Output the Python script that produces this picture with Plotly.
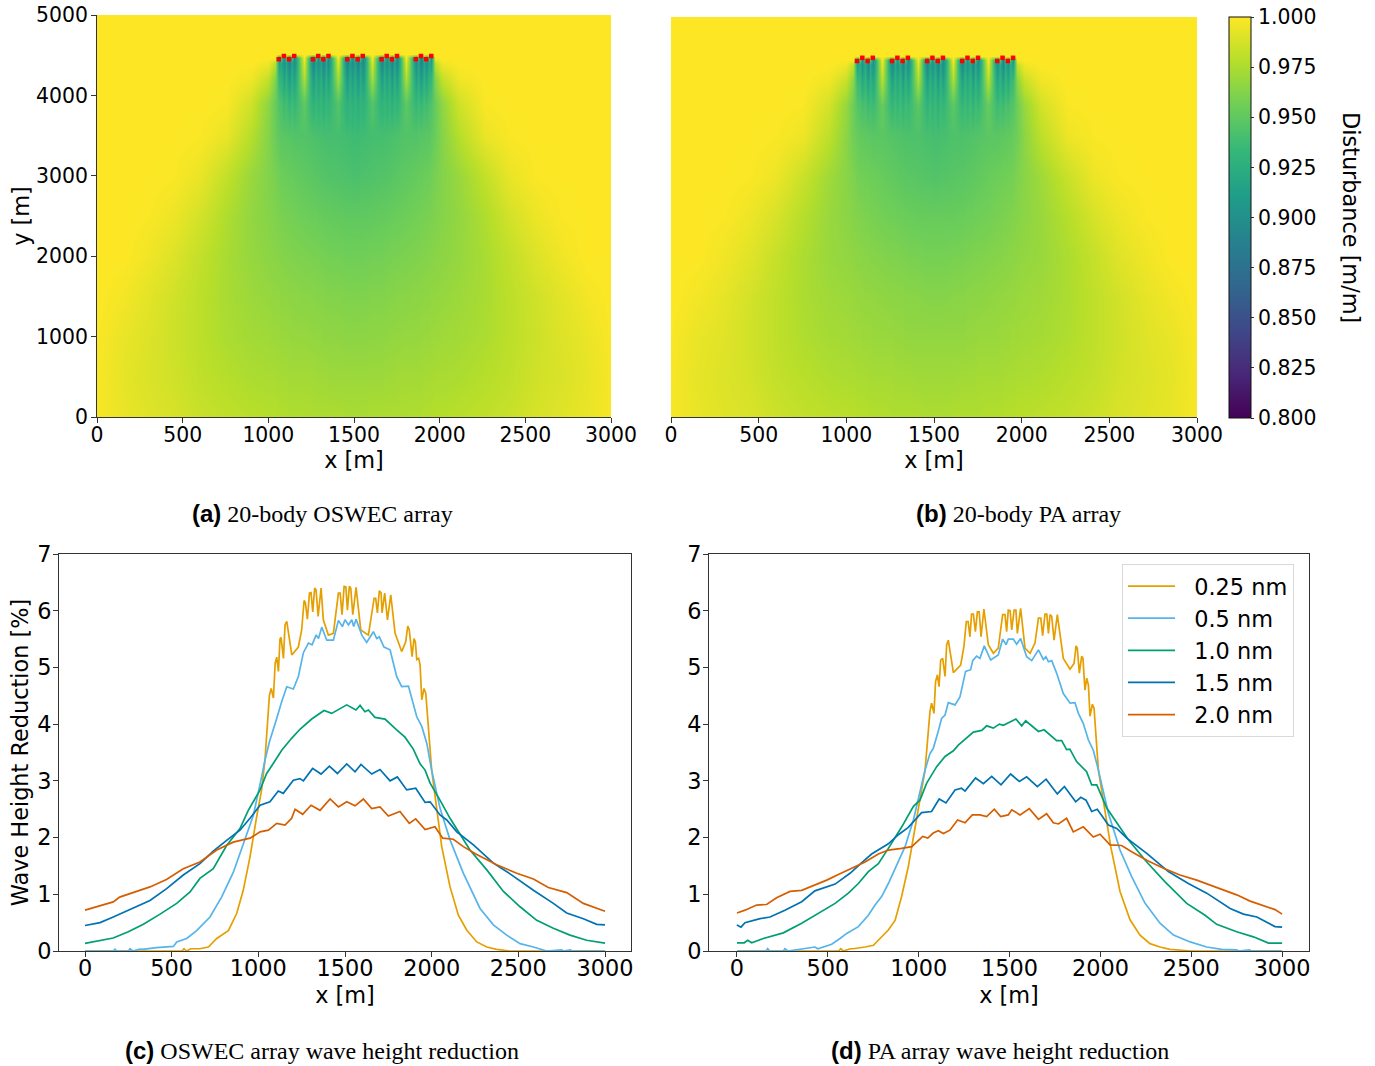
import plotly.graph_objects as go

W, H = 1375, 1066
FONT = "DejaVu Sans"

# ---------- heat maps: disturbance deficit in thousandths (0 = 1.000 m/m) ----------
grid_x = [0,150,300,450,600,750,900,1000,1040,
          1061,1076,1091,1106,1121,1136,1151,1206,
          1261,1276,1291,1306,1321,1336,1351,1406,
          1461,1476,1491,1506,1521,1536,1551,1606,
          1661,1676,1691,1706,1721,1736,1751,1806,
          1861,1876,1891,1906,1921,1936,1951,
          1972,2012,2112,2262,2412,2562,2712,2862,3000]
grid_y = [0,500,1000,1500,2000,2500,3000,3500,3900,4200,4400,4460,4510,5000]

deficit_a = [
 [2,6,9,12,16,19,21,22,22, 23,23,23,23,24,24,24,24, 25,25,25,25,25,25,25,25, 26,26,26,26,26,26,26,25, 25,25,25,25,25,25,25,24, 24,24,24,23,23,23,23, 22,22,21,19,16,12,9,6,2],
 [2,7,11,14,19,22,25,26,26, 27,27,27,27,28,28,28,28, 28,29,29,29,29,29,30,30, 30,30,30,30,30,30,30,30, 30,29,29,29,29,29,28,28, 28,28,28,27,27,27,27, 26,26,25,22,19,14,11,7,2],
 [1,6,10,15,20,25,28,29,30, 30,31,31,31,31,32,32,32, 33,33,33,33,34,34,34,34, 35,35,35,35,35,35,35,34, 34,34,34,33,33,33,33,32, 32,32,31,31,31,31,30, 30,29,28,25,20,15,10,6,1],
 [0,3,8,14,20,26,30,32,33, 33,34,34,34,35,35,35,36, 36,37,37,37,37,38,38,38, 39,39,39,39,39,39,39,38, 38,38,37,37,37,37,36,36, 35,35,35,34,34,34,33, 33,32,30,26,20,14,8,3,0],
 [0,0,4,10,18,26,32,35,36, 37,37,38,38,38,39,39,40, 41,41,41,42,42,42,43,43, 44,44,44,44,44,44,44,43, 43,42,42,42,41,41,41,40, 39,39,38,38,38,37,37, 36,35,32,26,18,10,4,0,0],
 [0,0,1,5,13,24,33,37,39, 40,41,41,42,42,43,43,45, 46,46,47,47,48,48,48,49, 50,50,50,50,50,50,50,49, 48,48,48,47,47,46,46,45, 43,43,42,42,41,41,40, 39,37,33,24,13,5,1,0,0],
 [0,0,0,1,6,18,31,38,41, 44,45,46,46,47,47,48,50, 52,53,53,54,54,55,55,56, 57,57,58,58,58,57,57,56, 55,55,54,54,53,53,52,50, 48,47,47,46,46,45,44, 41,38,31,18,6,1,0,0,0],
 [0,0,0,0,1,6,22,37,46, 50,52,52,53,53,54,55,55, 57,58,58,59,59,60,60,60, 62,62,63,63,63,62,62,60, 60,60,59,59,58,58,57,55, 55,54,53,53,52,52,50, 46,37,22,6,1,0,0,0,0],
 [0,0,0,0,0,1,14,34,47, 56,58,64,60,68,62,68,50, 72,66,72,66,74,66,70,54, 74,68,74,68,76,68,72,54, 72,66,72,66,74,66,70,50, 68,62,68,60,64,58,56, 47,34,14,1,0,0,0,0,0],
 [0,0,0,0,0,0,4,18,38, 68,70,84,72,90,74,86,24, 90,74,86,74,92,74,88,27, 92,76,88,76,94,76,90,27, 90,74,86,74,92,74,88,24, 86,74,90,72,84,70,68, 38,18,4,0,0,0,0,0,0],
 [0,0,0,0,0,0,0,4,20, 88,80,100,82,110,82,102,8, 110,84,100,84,112,84,104,10, 112,86,102,86,114,86,106,10, 110,84,100,84,112,84,104,8, 102,82,110,82,100,80,88, 20,4,0,0,0,0,0,0,0],
 [0,0,0,0,0,0,0,0,2, 100,55,100,55,118,55,104,1, 114,58,102,58,120,58,106,1, 116,60,102,60,122,60,108,1, 114,58,102,58,120,58,106,1, 104,55,118,55,100,55,100, 2,0,0,0,0,0,0,0,0],
 [0,0,0,0,0,0,0,0,0, 0,0,0,0,0,0,0,0, 0,0,0,0,0,0,0,0, 0,0,0,0,0,0,0,0, 0,0,0,0,0,0,0,0, 0,0,0,0,0,0,0, 0,0,0,0,0,0,0,0,0],
 [0,0,0,0,0,0,0,0,0, 0,0,0,0,0,0,0,0, 0,0,0,0,0,0,0,0, 0,0,0,0,0,0,0,0, 0,0,0,0,0,0,0,0, 0,0,0,0,0,0,0, 0,0,0,0,0,0,0,0,0],
]

deficit_b = [
 [2,6,9,11,15,18,20,21,21, 22,22,22,22,23,23,23,23, 24,24,24,24,24,24,24,24, 25,25,25,25,25,25,25,24, 24,24,24,24,24,24,24,23, 23,23,23,22,22,22,22, 21,21,20,18,15,11,9,6,2],
 [2,7,10,13,18,21,24,25,25, 26,26,26,26,27,27,27,27, 27,28,28,28,28,28,28,29, 29,29,29,29,29,29,29,29, 28,28,28,28,28,28,27,27, 27,27,27,26,26,26,26, 25,25,24,21,18,13,10,7,2],
 [1,6,9,14,19,24,27,28,29, 29,29,30,30,30,30,31,31, 31,32,32,32,32,33,33,33, 33,33,33,33,33,33,33,33, 33,33,32,32,32,32,31,31, 31,30,30,30,30,29,29, 29,28,27,24,19,14,9,6,1],
 [0,3,7,13,19,25,29,30,31, 32,32,32,33,33,33,33,34, 35,35,35,35,35,36,36,36, 37,37,37,37,37,37,37,36, 36,36,35,35,35,35,35,34, 33,33,33,33,32,32,32, 31,30,29,25,19,13,7,3,0],
 [0,0,4,9,17,25,31,33,34, 35,35,36,36,36,37,37,38, 39,39,39,40,40,40,41,41, 42,42,42,42,42,42,42,41, 41,40,40,40,39,39,39,38, 37,37,36,36,36,35,35, 34,33,31,25,17,9,4,0,0],
 [0,0,1,5,12,22,31,35,37, 38,39,39,40,40,41,41,43, 44,44,45,45,45,46,46,47, 47,47,47,47,47,47,47,47, 46,46,45,45,45,44,44,43, 41,41,40,40,39,39,38, 37,35,31,22,12,5,1,0,0],
 [0,0,0,1,5,16,29,36,39, 42,43,43,44,44,45,45,47, 49,50,50,51,51,52,52,53, 54,54,55,55,55,54,54,53, 52,52,51,51,50,50,49,47, 45,45,44,44,43,43,42, 39,36,29,16,5,1,0,0,0],
 [0,0,0,0,1,5,20,35,44, 47,49,49,50,50,51,52,52, 54,55,55,56,56,57,57,57, 59,59,60,60,60,59,59,57, 57,57,56,56,55,55,54,52, 52,51,50,50,49,49,47, 44,35,20,5,1,0,0,0,0],
 [0,0,0,0,0,1,13,32,45, 54,56,60,58,64,60,64,47, 68,62,68,62,70,62,66,51, 70,64,70,64,72,64,68,51, 68,62,68,62,70,62,66,47, 64,60,64,58,60,56,54, 45,32,13,1,0,0,0,0,0],
 [0,0,0,0,0,0,4,17,36, 64,66,80,68,86,70,82,22, 86,70,82,70,88,70,84,25, 88,72,84,72,90,72,86,25, 86,70,82,70,88,70,84,22, 82,70,86,68,80,66,64, 36,17,4,0,0,0,0,0,0],
 [0,0,0,0,0,0,0,4,19, 84,76,96,78,106,78,98,7, 106,80,96,80,108,80,100,9, 108,82,98,82,110,82,102,9, 106,80,96,80,108,80,100,7, 98,78,106,78,96,76,84, 19,4,0,0,0,0,0,0,0],
 [0,0,0,0,0,0,0,0,2, 96,52,96,52,114,52,100,1, 110,55,98,55,116,55,102,1, 112,57,98,57,118,57,104,1, 110,55,98,55,116,55,102,1, 100,52,114,52,96,52,96, 2,0,0,0,0,0,0,0,0],
 [0,0,0,0,0,0,0,0,0, 0,0,0,0,0,0,0,0, 0,0,0,0,0,0,0,0, 0,0,0,0,0,0,0,0, 0,0,0,0,0,0,0,0, 0,0,0,0,0,0,0, 0,0,0,0,0,0,0,0,0],
 [0,0,0,0,0,0,0,0,0, 0,0,0,0,0,0,0,0, 0,0,0,0,0,0,0,0, 0,0,0,0,0,0,0,0, 0,0,0,0,0,0,0,0, 0,0,0,0,0,0,0, 0,0,0,0,0,0,0,0,0],
]

# device positions
body_x = [1061,1091,1121,1151, 1261,1291,1321,1351, 1461,1491,1521,1551, 1661,1691,1721,1751, 1861,1891,1921,1951]
body_y = [4450,4490,4450,4490, 4450,4490,4450,4490, 4450,4490,4450,4490, 4450,4490,4450,4490, 4450,4490,4450,4490]

# ---------- line series ----------
names = ["\u00a0\u00a00.25 nm", "\u00a0\u00a00.5 nm", "\u00a0\u00a01.0 nm", "\u00a0\u00a01.5 nm", "\u00a0\u00a02.0 nm"]
colors = ["#E69F00", "#56B4E9", "#009E73", "#0072B2", "#D55E00"]

# panel c
c_x_025 = [0,300,560,571,585,610,625,663,712,760,827,875,913,952,990,1019,1038,1064,1074,1087,1097,1106,1116,1125,1131,1145,1154,1164,1193,1231,1250,1264,1271,1283,1295,1304,1314,1325,1333,1345,1362,1375,1404,1433,1462,1472,1483,1495,1505,1514,1525,1533,1545,1564,1591,1635,1668,1677,1687,1698,1708,1714,1729,1745,1764,1789,1827,1850,1862,1871,1887,1898,1906,1914,1925,1933,1943,1956,1966,2000,2058,2106,2154,2202,2260,2318,2375,2450,3000]
c_y_025 = [0,0,0,.04,0,.04,.04,.04,.07,.22,.36,.66,1.07,1.66,2.36,2.84,3.36,4.51,4.63,4.46,5.07,5.18,4.93,5.50,5.53,5.16,5.75,5.81,5.22,5.36,5.66,6.18,6.15,5.85,6.31,6.32,5.98,6.40,6.37,5.90,6.40,5.84,5.57,5.60,6.31,6.31,5.93,6.43,6.42,6.01,6.43,6.40,5.93,6.41,5.66,5.57,6.22,6.22,5.96,6.35,6.32,5.96,6.31,5.84,6.28,5.60,5.28,5.45,5.73,5.66,5.19,5.51,5.45,5.14,5.16,5.05,4.43,4.63,4.54,3.19,1.84,1.13,.63,.37,.16,.07,.03,0,0]
c_x_05 = [0,163,173,183,250,260,275,317,330,413,510,529,587,644,721,788,856,913,971,1019,1038,1064,1087,1106,1135,1164,1202,1231,1260,1289,1310,1333,1347,1366,1395,1433,1462,1485,1500,1520,1539,1550,1564,1597,1625,1664,1683,1698,1725,1760,1798,1827,1866,1891,1914,1943,1972,2000,2048,2106,2183,2279,2356,2433,2510,2587,2664,2750,2760,2800,2810,3000]
c_y_05 = [0,0,.03,0,0,.04,0,.035,.03,.06,.08,.16,.22,.36,.6,.95,1.39,1.89,2.39,3.07,3.36,3.69,3.9,4.10,4.40,4.66,4.62,4.84,5.26,5.43,5.40,5.57,5.51,5.71,5.48,5.48,5.83,5.72,5.84,5.75,5.84,5.72,5.85,5.57,5.44,5.63,5.51,5.54,5.36,5.31,4.84,4.66,4.67,4.37,4.13,3.96,3.66,3.19,2.52,1.96,1.37,.75,.46,.28,.13,.07,0,.02,0,.02,0,0]
c_x_10 = [0,67,163,250,337,433,529,606,663,740,817,894,942,1010,1048,1087,1135,1192,1240,1308,1379,1423,1510,1563,1587,1615,1635,1673,1731,1798,1846,1894,1933,1962,1991,2048,2106,2221,2318,2414,2510,2606,2702,2798,2894,3000]
c_y_10 = [.135,.17,.23,.34,.47,.65,.84,1.04,1.28,1.45,1.86,2.16,2.48,2.84,3.13,3.31,3.54,3.75,3.91,4.09,4.24,4.19,4.34,4.25,4.33,4.22,4.25,4.12,4.09,3.90,3.77,3.56,3.3,3.19,2.96,2.66,2.34,1.78,1.43,1.05,.78,.54,.40,.28,.19,.14]
c_x_15 = [0,87,163,279,375,471,567,663,740,817,894,952,1010,1067,1115,1144,1202,1240,1260,1313,1362,1410,1456,1510,1558,1592,1654,1702,1760,1802,1856,1908,1962,1991,2048,2087,2145,2241,2356,2452,2587,2702,2779,2875,2952,3000]
c_y_15 = [.45,.5,.6,.76,.89,1.10,1.34,1.54,1.76,1.95,2.13,2.34,2.57,2.63,2.82,2.78,3.01,3.04,3.0,3.22,3.12,3.26,3.13,3.30,3.16,3.29,3.12,3.20,3.0,3.07,2.84,2.87,2.62,2.63,2.40,2.31,2.10,1.87,1.55,1.36,1.07,.84,.67,.57,.47,.46]
c_x_20 = [0,87,163,200,280,375,470,567,663,760,855,952,1010,1058,1106,1154,1192,1212,1256,1304,1356,1414,1462,1510,1558,1606,1654,1702,1750,1817,1871,1908,1962,2019,2064,2125,2183,2260,2375,2491,2587,2673,2779,2875,3000]
c_y_20 = [.72,.8,.865,.95,1.03,1.13,1.26,1.45,1.57,1.78,1.92,1.99,2.10,2.13,2.25,2.22,2.34,2.50,2.41,2.57,2.48,2.68,2.54,2.63,2.56,2.68,2.51,2.54,2.38,2.46,2.25,2.33,2.14,2.19,1.99,1.97,1.84,1.70,1.52,1.37,1.27,1.12,1.03,.84,.70]

# panel d
d_x_025 = [0,300,560,571,585,625,640,705,751,787,833,870,906,943,980,1017,1035,1062,1071,1084,1093,1103,1112,1121,1132,1145,1154,1163,1191,1231,1249,1262,1272,1282,1291,1301,1312,1323,1333,1343,1359,1383,1411,1438,1462,1475,1484,1493,1503,1512,1525,1535,1543,1561,1585,1613,1640,1659,1672,1682,1695,1705,1714,1723,1732,1745,1763,1796,1833,1855,1866,1873,1884,1897,1904,1915,1925,1934,1943,1956,1965,1989,2057,2108,2163,2218,2273,2328,2383,2500,3000]
d_y_025 = [0,0,0,.04,0,.04,.04,.07,.10,.22,.37,.54,.96,1.49,2.19,2.9,3.19,4.22,4.37,4.19,4.75,4.87,4.66,5.13,5.16,4.84,5.40,5.48,4.91,5.04,5.37,5.81,5.81,5.54,5.94,5.94,5.63,5.98,5.98,5.54,6.03,5.40,5.25,5.34,5.93,5.93,5.63,6.01,6.00,5.66,6.01,6.01,5.60,6.04,5.34,5.25,5.43,5.87,5.87,5.56,5.94,5.94,5.60,5.93,5.90,5.48,5.93,5.16,4.97,5.07,5.38,5.34,4.90,5.20,5.16,4.60,4.81,4.69,4.14,4.35,4.28,3.19,1.84,1.05,.55,.28,.13,.07,.03,0,0]
d_x_05 = [0,160,169,180,255,264,280,356,429,445,521,567,604,668,723,760,796,833,870,925,971,1007,1035,1062,1080,1108,1126,1145,1163,1200,1227,1258,1286,1297,1319,1337,1361,1396,1438,1462,1481,1493,1521,1539,1561,1594,1622,1659,1686,1700,1714,1732,1759,1796,1833,1860,1879,1906,1934,1961,1989,2044,2108,2172,2246,2328,2402,2494,2585,2668,2750,2760,2820,2830,3000]
d_y_05 = [0,0,.04,0,0,.04,0,.04,.07,.04,.12,.22,.31,.43,.63,.81,.96,1.19,1.46,1.84,2.31,2.78,3.19,3.48,3.57,3.88,4.10,4.16,4.38,4.34,4.48,4.93,4.96,5.12,5.20,5.16,5.38,5.13,5.22,5.50,5.40,5.50,5.50,5.41,5.51,5.19,5.12,5.31,5.14,5.19,5.10,5.12,4.90,4.54,4.37,4.38,4.19,4.01,3.72,3.54,3.19,2.43,1.78,1.31,.84,.49,.28,.16,.07,.03,.02,0,.02,0,0]
d_x_10 = [0,40,59,81,145,255,356,448,540,613,668,723,778,833,907,971,1007,1044,1099,1145,1191,1218,1301,1347,1374,1411,1444,1466,1535,1567,1589,1659,1690,1759,1787,1814,1832,1869,1924,1952,1980,2035,2099,2154,2255,2356,2475,2576,2640,2750,2842,2925,3000]
d_y_10 = [.145,.145,.19,.145,.22,.32,.49,.66,.84,1.02,1.19,1.40,1.54,1.81,2.19,2.55,2.66,2.96,3.25,3.43,3.53,3.63,3.86,3.89,3.97,3.93,4.0,3.98,4.09,3.97,4.06,3.87,3.90,3.71,3.71,3.55,3.56,3.34,3.16,2.93,2.93,2.52,2.22,1.96,1.57,1.22,.84,.63,.47,.34,.25,.14,.14]
d_x_15 = [0,22,44,127,182,264,356,429,540,622,687,741,833,888,943,1016,1071,1113,1150,1200,1236,1255,1313,1356,1402,1453,1506,1554,1594,1653,1701,1763,1802,1864,1892,1921,1952,1983,2044,2090,2145,2255,2374,2484,2585,2714,2787,2861,2961,3000]
d_y_15 = [.46,.42,.5,.57,.6,.72,.87,1.06,1.18,1.37,1.56,1.71,1.89,2.05,2.18,2.44,2.46,2.68,2.61,2.84,2.87,2.82,3.05,2.95,3.08,2.93,3.12,2.99,3.07,2.90,3.03,2.77,2.90,2.63,2.71,2.66,2.46,2.50,2.22,2.16,1.99,1.72,1.40,1.19,1.02,.75,.65,.60,.43,.42]
d_x_20 = [0,44,108,163,218,292,356,429,494,558,622,705,778,833,906,962,1022,1050,1080,1108,1136,1172,1214,1255,1295,1337,1374,1416,1451,1493,1512,1558,1609,1659,1704,1741,1769,1814,1851,1870,1906,1961,1998,2053,2117,2172,2255,2347,2438,2530,2631,2750,2824,2906,2961,3000]
d_y_20 = [.67,.72,.81,.82,.94,1.05,1.07,1.16,1.25,1.35,1.44,1.57,1.71,1.78,1.81,1.84,2.02,1.99,2.08,2.12,2.07,2.13,2.31,2.26,2.40,2.40,2.37,2.50,2.37,2.40,2.49,2.40,2.51,2.32,2.42,2.26,2.24,2.34,2.10,2.13,2.19,2.01,2.06,1.87,1.86,1.75,1.60,1.46,1.34,1.25,1.13,.99,.88,.79,.73,.65]

series_c = [(c_x_025,c_y_025),(c_x_05,c_y_05),(c_x_10,c_y_10),(c_x_15,c_y_15),(c_x_20,c_y_20)]
series_d = [(d_x_025,d_y_025),(d_x_05,d_y_05),(d_x_10,d_y_10),(d_x_15,d_y_15),(d_x_20,d_y_20)]
for i, (xs, ys) in enumerate(series_c + series_d):
    assert len(xs) == len(ys), (i, len(xs), len(ys))
for m in (deficit_a, deficit_b):
    assert len(m) == len(grid_y) and all(len(r) == len(grid_x) for r in m)

x_ticks = [0,500,1000,1500,2000,2500,3000]

def dom_x(a, b): return [a / W, b / W]
def dom_y(top, bot): return [1 - bot / H, 1 - top / H]

fig = go.Figure()

for mat, xa, ya in ((deficit_a, "x", "y"), (deficit_b, "x2", "y2")):
    fig.add_trace(go.Heatmap(
        x=grid_x, y=grid_y, z=[[1 - v / 1000 for v in row] for row in mat],
        zsmooth="best", coloraxis="coloraxis", xaxis=xa, yaxis=ya, hoverinfo="skip"))
    fig.add_trace(go.Scatter(
        x=body_x, y=body_y, mode="markers", xaxis=xa, yaxis=ya, showlegend=False,
        marker=dict(symbol="square", size=4.5, color="#ff0000", line=dict(width=0))))

for (xs, ys), n, c in zip(series_c, names, colors):
    fig.add_trace(go.Scatter(x=xs, y=ys, mode="lines", name=n, showlegend=False,
                             line=dict(color=c, width=1.7), xaxis="x3", yaxis="y3"))
for (xs, ys), n, c in zip(series_d, names, colors):
    fig.add_trace(go.Scatter(x=xs, y=ys, mode="lines", name=n, showlegend=True,
                             line=dict(color=c, width=1.7), xaxis="x4", yaxis="y4"))

AX = "#333333"
def top_x(dom, anchor):
    return dict(domain=dom, anchor=anchor, range=[0,3000], tickvals=x_ticks, ticks="outside",
                ticklen=5, tickcolor=AX, showgrid=False, zeroline=False, showline=True, linecolor=AX,
                linewidth=1, tickfont=dict(family=FONT, size=20.4, color="black"), ticklabelstandoff=-5,
                title=dict(text="x [m]", font=dict(family=FONT, size=22.4, color="black"), standoff=4))
def bot_x(dom, anchor, rng):
    return dict(domain=dom, anchor=anchor, range=rng, tickvals=x_ticks, ticks="outside",
                ticklen=5, tickcolor=AX, showgrid=False, zeroline=False, showline=True, mirror=True,
                linecolor=AX, linewidth=1, tickfont=dict(family=FONT, size=22.4, color="black"), ticklabelstandoff=-8,
                title=dict(text="x [m]", font=dict(family=FONT, size=22.4, color="black"), standoff=7))
def bot_y(dom, anchor, title):
    d = dict(domain=dom, anchor=anchor, range=[0,7], tickvals=[0,1,2,3,4,5,6,7], ticks="outside",
             ticklen=5, tickcolor=AX, showgrid=False, zeroline=False, showline=True, mirror=True,
             linecolor=AX, linewidth=1, tickfont=dict(family=FONT, size=22.4, color="black"), ticklabelstandoff=-3)
    if title:
        d["title"] = dict(text=title, font=dict(family=FONT, size=22.4, color="black"), standoff=2)
    return d

fig.update_layout(
    width=W, height=H, autosize=False, margin=dict(l=0, r=0, t=0, b=0, autoexpand=False),
    paper_bgcolor="white", plot_bgcolor="white", font=dict(family=FONT, color="black"),
    xaxis=top_x(dom_x(97, 611), "y"),
    yaxis=dict(domain=dom_y(15, 417), anchor="x", range=[0,5000], tickvals=[0,1000,2000,3000,4000,5000],
               ticks="outside", ticklen=5, tickcolor=AX, showgrid=False, zeroline=False, showline=True,
               linecolor=AX, linewidth=1, tickfont=dict(family=FONT, size=20.4, color="black"), ticklabelstandoff=-1,
               title=dict(text="y [m]", font=dict(family=FONT, size=22.4, color="black"), standoff=0)),
    xaxis2=top_x(dom_x(671, 1197), "y2"),
    yaxis2=dict(domain=dom_y(17, 417), anchor="x2", range=[0,5000], showticklabels=False, ticks="",
                showgrid=False, zeroline=False, showline=False),
    xaxis3=bot_x(dom_x(59, 631), "y3", [-150, 3150]),
    yaxis3=bot_y(dom_y(554, 951), "x3", "Wave Height Reduction [%]"),
    xaxis4=bot_x(dom_x(709, 1309), "y4", [-154, 3148]),
    yaxis4=bot_y(dom_y(554, 951), "x4", None),
    coloraxis=dict(colorscale="Viridis", cmin=0.8, cmax=1.0, colorbar=dict(
        x=1229 / W, xanchor="left", xref="paper", y=1 - 418 / H, yanchor="bottom", yref="paper",
        len=401 / H, lenmode="fraction", thickness=22, thicknessmode="pixels", xpad=0, ypad=0,
        tick0=0.8, dtick=0.025, tickformat=".3f", ticks="outside", ticklen=3, tickcolor=AX,
        outlinecolor="#111111", outlinewidth=1,
        tickfont=dict(family=FONT, size=20.4, color="black"))),
    legend=dict(x=1122 / W, xanchor="left", y=1 - 564 / H, yanchor="top", xref="paper", yref="paper",
                bgcolor="white", bordercolor="#d9d9d9", borderwidth=1, itemwidth=47,
                font=dict(family=FONT, size=22.4, color="black"), tracegroupgap=0),
)

SANS = "Liberation Sans"
SERIF = "Liberation Serif"
captions = [
    ("(a)", "20-body OSWEC array", 322, 513),
    ("(b)", "20-body PA array", 1018, 513),
    ("(c)", "OSWEC array wave height reduction", 322, 1050),
    ("(d)", "PA array wave height reduction", 1000, 1050),
]
for tag, txt, cx, cy in captions:
    fig.add_annotation(
        x=cx / W, y=1 - cy / H, xref="paper", yref="paper", showarrow=False, xanchor="center", yanchor="middle",
        text=f'<span style="font-family:{SANS};font-weight:bold">{tag}</span> {txt}',
        font=dict(family=SERIF, size=24, color="black"))
fig.add_annotation(x=1351 / W, y=1 - 217 / H, xref="paper", yref="paper", showarrow=False, textangle=90,
                   xanchor="center", yanchor="middle", text="Disturbance [m/m]",
                   font=dict(family=FONT, size=22.4, color="black"))

fig.write_html("out.html", config=dict(displayModeBar=False),
               post_script="document.body.style.margin='0';")
